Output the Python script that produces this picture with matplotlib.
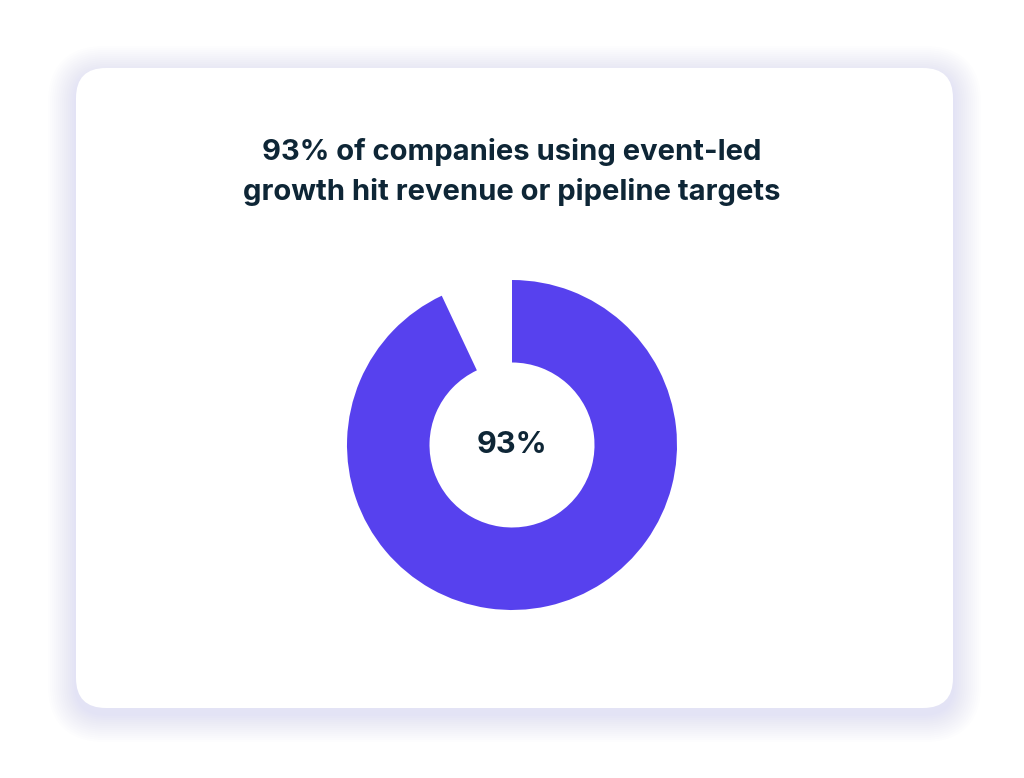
import matplotlib as mpl; mpl.use("Agg")
import matplotlib.pyplot as plt
from matplotlib.patches import FancyBboxPatch

# data
labels = ["Hit targets", "Other"]
values = [93, 7]
center_label = "93%"
title = "93% of companies using event-led\ngrowth hit revenue or pipeline targets"

purple = "#5741EE"
navy = "#0E2636"

fig = plt.figure(figsize=(10.24, 7.78), dpi=100)
fig.patch.set_facecolor("white")

# background card with soft glow, pixel coords
bg = fig.add_axes([0, 0, 1, 1])
bg.set_xlim(0, 1024)
bg.set_ylim(778, 0)
bg.axis("off")
for i in range(14, 0, -1):
    pad = i * 4
    bg.add_patch(FancyBboxPatch((76 - pad / 2, 68 - pad / 2 + 6), 877 + pad, 640 + pad,
                                boxstyle="round,pad=0,rounding_size=%d" % (30 + pad / 2),
                                fc="#B9AEF5", ec="none", alpha=0.025))
bg.add_patch(FancyBboxPatch((76, 68), 877, 640, boxstyle="round,pad=0,rounding_size=30",
                            fc="white", ec="none"))

bg.text(512, 172, title, ha="center", va="center", fontsize=21, fontweight="bold",
        family=["Inter", "DejaVu Sans"], color=navy, linespacing=1.55)

# donut
R = 165
ax = fig.add_axes([(512 - R) / 1024, 1 - (445 + R) / 778, 2 * R / 1024, 2 * R / 778])
ax.pie(values, colors=[purple, "none"], startangle=90, counterclock=False,
       radius=1, wedgeprops=dict(width=0.5, edgecolor="none"))
ax.set_xlim(-1, 1)
ax.set_ylim(-1, 1)
ax.text(0, 0, center_label, ha="center", va="center", fontsize=22, fontweight="bold",
        family=["Inter", "DejaVu Sans"], color=navy)

fig.savefig("out.png", dpi=100, facecolor="white")
